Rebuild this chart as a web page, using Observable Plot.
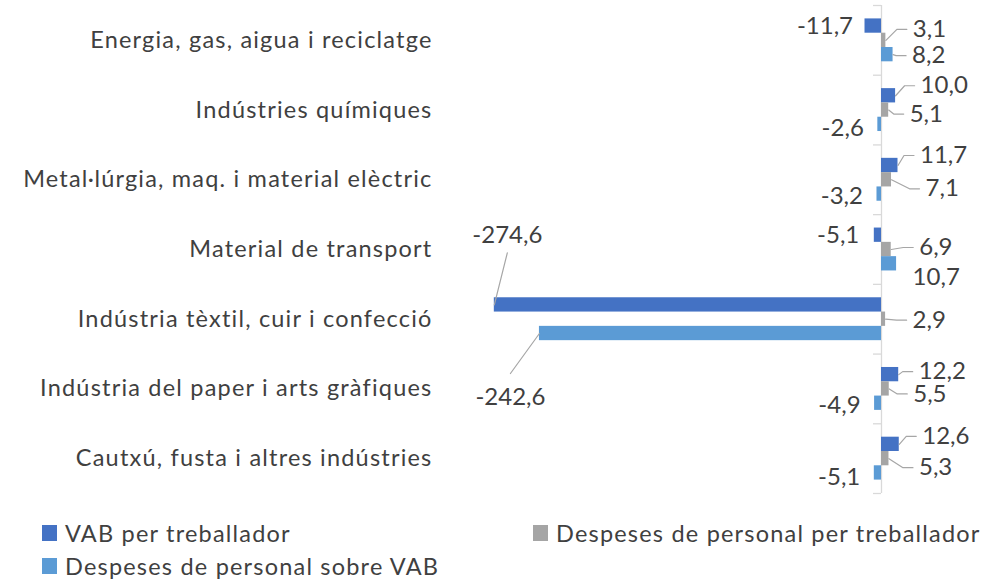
<!DOCTYPE html>
<html>
<head>
<meta charset="utf-8">
<script src="https://cdn.jsdelivr.net/npm/d3@7"></script>
<script src="https://cdn.jsdelivr.net/npm/@observablehq/plot@0.6"></script>
<style>
  html, body { margin: 0; padding: 0; background: #ffffff; }
  body { width: 1000px; height: 581px; overflow: hidden; font-family: Lato, "Open Sans", sans-serif; color: #404040; }
  #chart svg { display: block; letter-spacing: 1.2px; }
  #chart svg g[aria-label="text"] { letter-spacing: 0; }
  .legend { position: relative; height: 81px; font-size: 23.5px; letter-spacing: 1.2px; color: #404040; }
  .legend .item { position: absolute; display: flex; align-items: center; height: 30px; white-space: nowrap; }
  .legend .sw { width: 15px; height: 16px; margin-right: 8px; flex: none; }
</style>
</head>
<body>
<div id="chart"></div>
<div class="legend" id="legend"></div>
<script>
// ---------------- data ----------------
const categories = [
  "Energia, gas, aigua i reciclatge",
  "Indústries químiques",
  "Metal·lúrgia, maq. i material elèctric",
  "Material de transport",
  "Indústria tèxtil, cuir i confecció",
  "Indústria del paper i arts gràfiques",
  "Cautxú, fusta i altres indústries"
];
const seriesNames = [
  "VAB per treballador",
  "Despeses de personal per treballador",
  "Despeses de personal sobre VAB"
];
const vabPerTreballador      = [-11.7, 10.0, 11.7, -5.1, -274.6, 12.2, 12.6];
const despesesPerTreballador = [3.1, 5.1, 7.1, 6.9, 2.9, 5.5, 5.3];
const despesesSobreVAB       = [8.2, -2.6, -3.2, 10.7, -242.6, -4.9, -5.1];

// ---------------- styling / layout ----------------
const seriesColors = ["#4472C4", "#A5A5A5", "#5B9BD5"];
const W = 1000, H = 500;
const X_DOMAIN = [-300, 50];
const ZERO_PX = 881, PX_PER_UNIT = 1.41;
const X_RANGE = [ZERO_PX + X_DOMAIN[0] * PX_PER_UNIT, ZERO_PX + X_DOMAIN[1] * PX_PER_UNIT];
const Y_DOMAIN = [0, categories.length];
const Y_RANGE = [5, 493];
const BAR = 14.3 / ((Y_RANGE[1] - Y_RANGE[0]) / categories.length); // bar thickness in band units
const PAD = (1 - 3 * BAR) / 2;

// data-label placement (pixel offsets from the bar end / bar centre, as moved in the original chart)
// [dx, dy, leader?]
const labelPlacement = [
  [[-12, 0, 0], [27, -11, 1], [19, 1, 1]],
  [[25, -10, 1], [21, 4, 1], [-14, 4, 0]],
  [[22, -10, 1], [34, 9, 1], [-14, 2, 0]],
  [[-15, 0, 0], [28, -2, 1], [16, 14, 0]],
  [[13, -70, 1], [27, 1, 1], [-29, 64, 1]],
  [[20, -3, 1], [24, 5, 1], [-14, 2, 0]],
  [[23, -8, 1], [30, 9, 1], [-14, 4, 0]]
];

const seriesValues = [vabPerTreballador, despesesPerTreballador, despesesSobreVAB];
const rows = categories.flatMap((cat, i) => seriesNames.map((s, k) => ({
  cat, i, k, series: s, value: seriesValues[k][i],
  yc: i + PAD + (k + 0.5) * BAR,
  y1: i + PAD + k * BAR,
  y2: i + PAD + (k + 1) * BAR,
  dx: labelPlacement[i][k][0],
  dy: labelPlacement[i][k][1],
  leader: labelPlacement[i][k][2]
})));

const fmt = v => v.toFixed(1).replace(".", ",");

// scales identical to the plot's, to place leader lines
const xS = Plot.scale({x: {domain: X_DOMAIN, range: X_RANGE}});
const yS = Plot.scale({y: {domain: Y_DOMAIN, range: Y_RANGE}});

const leaders = [];
rows.filter(d => d.leader).forEach(d => {
  const bx = xS.apply(d.value), by = yS.apply(d.yc);
  const lx = bx + d.dx, ly = by + d.dy;
  let pts;
  if (Math.abs(d.value) > 100) {
    const ey = ly + (d.dy < 0 ? 18 : -24);
    pts = [[bx, by], [lx, ey]];
  } else {
    pts = [[bx, by], [lx - 16, ly], [lx - 6, ly]];
  }
  pts.forEach(([px, py]) => leaders.push({id: d.cat + d.series, x: xS.invert(px), y: yS.invert(py)}));
});

const labelMarks = rows.map(d => Plot.text([d], {
  x: "value", y: "yc", text: r => fmt(r.value),
  dx: d.dx, dy: d.dy,
  textAnchor: Math.abs(d.value) > 100 ? "middle" : (d.value < 0 && d.dx < 0 ? "end" : "start"),
  fontSize: 24, fill: "#404040"
}));

const chart = Plot.plot({
  width: W, height: H,
  marginLeft: 440, marginRight: 0, marginTop: 5, marginBottom: 7,
  style: {fontFamily: "Lato, 'Open Sans', sans-serif", color: "#404040", background: "#ffffff"},
  x: {domain: X_DOMAIN, range: X_RANGE, axis: null},
  y: {domain: Y_DOMAIN, range: Y_RANGE, axis: null},
  color: {domain: seriesNames, range: seriesColors},
  marks: [
    Plot.axisY({
      ticks: categories.map((c, i) => i + 0.5),
      tickFormat: v => categories[Math.floor(v)],
      anchor: "left", tickSize: 0, tickPadding: 8, fontSize: 23.5, label: null
    }),
    Plot.ruleX([0], {y1: Y_DOMAIN[0], y2: Y_DOMAIN[1], stroke: "#D9D9D9", strokeWidth: 1.3}),
    Plot.ruleY(d3.range(categories.length + 1), {x1: xS.invert(ZERO_PX - 8), x2: 0, stroke: "#D9D9D9", strokeWidth: 1.3}),
    Plot.rectX(rows, {x1: 0, x2: "value", y1: "y1", y2: "y2", fill: "series"}),
    Plot.line(leaders, {x: "x", y: "y", z: "id", stroke: "#A6A6A6", strokeWidth: 1.2}),
    ...labelMarks
  ]
});
document.getElementById("chart").appendChild(chart);

// legend
const legendPos = [[42, 18], [533, 18], [42, 51]];
const legend = document.getElementById("legend");
seriesNames.forEach((s, k) => {
  const it = document.createElement("div");
  it.className = "item";
  it.style.left = legendPos[k][0] + "px";
  it.style.top = legendPos[k][1] + "px";
  it.innerHTML = `<span class="sw" style="background:${seriesColors[k]}"></span><span>${s}</span>`;
  legend.appendChild(it);
});
</script>
</body>
</html>
